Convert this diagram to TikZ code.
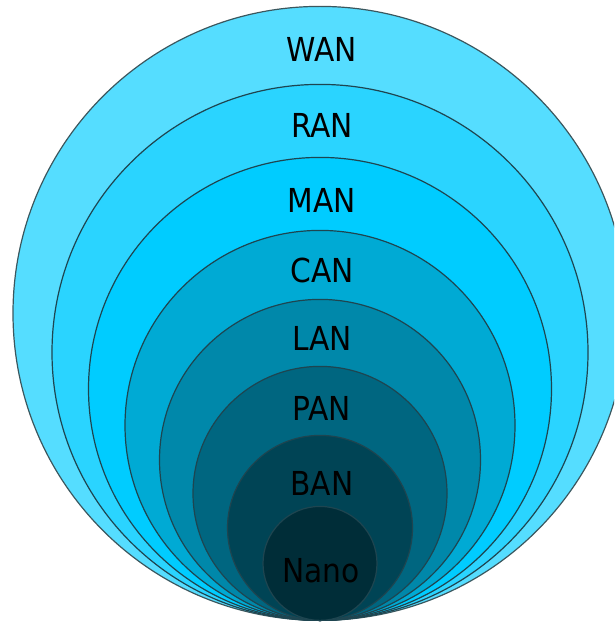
\documentclass[tikz,border=0pt]{standalone}
\usepackage{fontspec}
\newfontfamily\lblfont{DejaVu Sans Condensed}
\definecolor{cWAN}{HTML}{55DDFF}
\definecolor{cRAN}{HTML}{2AD4FF}
\definecolor{cMAN}{HTML}{00CCFF}
\definecolor{cCAN}{HTML}{00AAD4}
\definecolor{cLAN}{HTML}{0088AA}
\definecolor{cPAN}{HTML}{006680}
\definecolor{cBAN}{HTML}{004455}
\definecolor{cNano}{HTML}{002D38}
\definecolor{rim}{HTML}{1E4550}
\tikzset{
  ring/.style={circle, inner sep=0pt, anchor=south, draw=rim, line width=1.2pt, minimum size=#1},
  lbl/.style={anchor=base, inner sep=0pt, font=\lblfont\fontsize{33}{33}\selectfont, text=black}
}
\begin{document}
\begin{tikzpicture}[x=1pt, y=-1pt]
\useasboundingbox (0,0) rectangle (614,623);
\clip (0,0) rectangle (614,623);
\coordinate (base) at (320,621);
\node[ring=614pt, fill=cWAN, draw=rim!70!gray] (wan) at (base) {};
\node[ring=536pt, fill=cRAN] (ran) at (base) {};
\node[ring=463pt, fill=cMAN] (man) at (base) {};
\node[ring=390pt, fill=cCAN] (can) at (base) {};
\node[ring=321pt, fill=cLAN] (lan) at (base) {};
\node[ring=254pt, fill=cPAN] (pan) at (base) {};
\node[ring=185pt, fill=cBAN] (ban) at (base) {};
\node[ring=114pt, fill=cNano] (nano) at (base) {};
\node[lbl] (tWAN) at (322,62) {WAN};
\node[lbl] (tRAN) at (322,137) {RAN};
\node[lbl] (tMAN) at (322,212) {MAN};
\node[lbl] (tCAN) at (322,282) {CAN};
\node[lbl] (tLAN) at (322,350) {LAN};
\node[lbl] (tPAN) at (322,420) {PAN};
\node[lbl] (tBAN) at (322,495) {BAN};
\node[lbl] (tNano) at (321,582) {Nano};
\end{tikzpicture}
\end{document}
